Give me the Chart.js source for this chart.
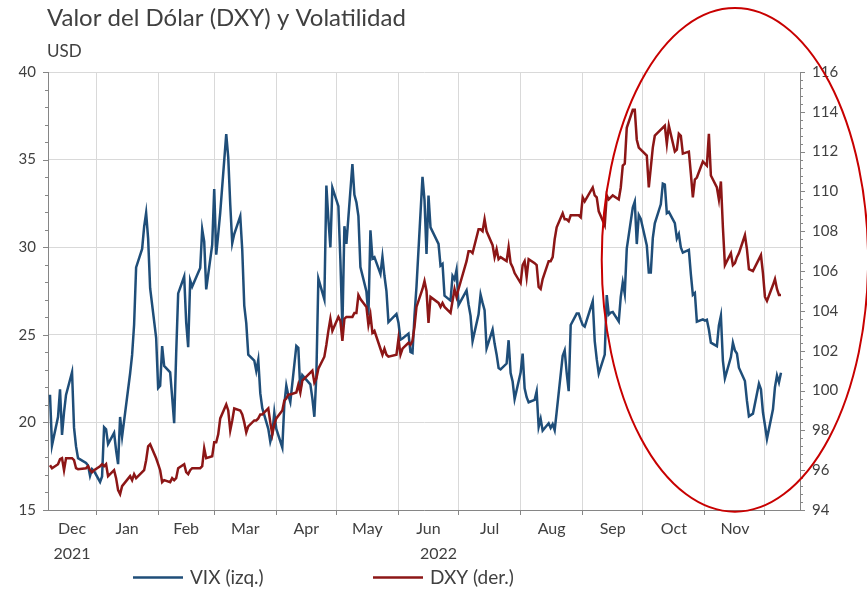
<!DOCTYPE html>
<html>
<head>
<meta charset="utf-8">
<script src="https://cdn.jsdelivr.net/npm/chart.js@4.4.1/dist/chart.umd.min.js"></script>
<style>
  html, body { margin: 0; padding: 0; background: #ffffff; }
  canvas { display: block; }
</style>
</head>
<body>
<canvas id="chart" width="867" height="590"></canvas>
<script>
// ---------------- DATA ----------------
const titleText = "Valor del Dólar (DXY) y Volatilidad";
const unitText = "USD";
const seriesNames = ["VIX (izq.)", "DXY (der.)"];

const tradeDates = [
  // Dec 2021
  "2021-12-09","2021-12-10","2021-12-13","2021-12-14","2021-12-15","2021-12-16","2021-12-17","2021-12-20","2021-12-21","2021-12-22","2021-12-23","2021-12-27","2021-12-28","2021-12-29","2021-12-30","2021-12-31",
  // Jan 2022
  "2022-01-03","2022-01-04","2022-01-05","2022-01-06","2022-01-07","2022-01-10","2022-01-11","2022-01-12","2022-01-13","2022-01-14","2022-01-18","2022-01-19","2022-01-20","2022-01-21","2022-01-24","2022-01-25","2022-01-26","2022-01-27","2022-01-28","2022-01-31",
  // Feb
  "2022-02-01","2022-02-02","2022-02-03","2022-02-04","2022-02-07","2022-02-08","2022-02-09","2022-02-10","2022-02-11","2022-02-14","2022-02-15","2022-02-16","2022-02-17","2022-02-18","2022-02-22","2022-02-23","2022-02-24","2022-02-25","2022-02-28",
  // Mar
  "2022-03-01","2022-03-02","2022-03-03","2022-03-04","2022-03-07","2022-03-08","2022-03-09","2022-03-10","2022-03-11","2022-03-14","2022-03-15","2022-03-16","2022-03-17","2022-03-18","2022-03-21","2022-03-22","2022-03-23","2022-03-24","2022-03-25","2022-03-28","2022-03-29","2022-03-30","2022-03-31",
  // Apr
  "2022-04-01","2022-04-04","2022-04-05","2022-04-06","2022-04-07","2022-04-08","2022-04-11","2022-04-12","2022-04-13","2022-04-14","2022-04-18","2022-04-19","2022-04-20","2022-04-21","2022-04-22","2022-04-25","2022-04-26","2022-04-27","2022-04-28","2022-04-29",
  // May
  "2022-05-02","2022-05-03","2022-05-04","2022-05-05","2022-05-06","2022-05-09","2022-05-10","2022-05-11","2022-05-12","2022-05-13","2022-05-16","2022-05-17","2022-05-18","2022-05-19","2022-05-20","2022-05-23","2022-05-24","2022-05-25","2022-05-26","2022-05-27","2022-05-31",
  // Jun
  "2022-06-01","2022-06-02","2022-06-03","2022-06-06","2022-06-07","2022-06-08","2022-06-09","2022-06-10","2022-06-13","2022-06-14","2022-06-15","2022-06-16","2022-06-17","2022-06-21","2022-06-22","2022-06-23","2022-06-24","2022-06-27","2022-06-28","2022-06-29","2022-06-30",
  // Jul
  "2022-07-01","2022-07-05","2022-07-06","2022-07-07","2022-07-08","2022-07-11","2022-07-12","2022-07-13","2022-07-14","2022-07-15","2022-07-18","2022-07-19","2022-07-20","2022-07-21","2022-07-22","2022-07-25","2022-07-26","2022-07-27","2022-07-28","2022-07-29",
  // Aug
  "2022-08-01","2022-08-02","2022-08-03","2022-08-04","2022-08-05","2022-08-08","2022-08-09","2022-08-10","2022-08-11","2022-08-12","2022-08-15","2022-08-16","2022-08-17","2022-08-18","2022-08-19","2022-08-22","2022-08-23","2022-08-24","2022-08-25","2022-08-26","2022-08-29","2022-08-30","2022-08-31",
  // Sep
  "2022-09-01","2022-09-02","2022-09-06","2022-09-07","2022-09-08","2022-09-09","2022-09-12","2022-09-13","2022-09-14","2022-09-15","2022-09-16","2022-09-19","2022-09-20","2022-09-21","2022-09-22","2022-09-23","2022-09-26","2022-09-27","2022-09-28","2022-09-29","2022-09-30",
  // Oct
  "2022-10-03","2022-10-04","2022-10-05","2022-10-06","2022-10-07","2022-10-10","2022-10-11","2022-10-12","2022-10-13","2022-10-14","2022-10-17","2022-10-18","2022-10-19","2022-10-20","2022-10-21","2022-10-24","2022-10-25","2022-10-26","2022-10-27","2022-10-28","2022-10-31",
  // Nov
  "2022-11-01","2022-11-02","2022-11-03","2022-11-04","2022-11-07","2022-11-08","2022-11-09","2022-11-10","2022-11-11","2022-11-14","2022-11-15","2022-11-16","2022-11-17","2022-11-18","2022-11-21","2022-11-22","2022-11-23","2022-11-25","2022-11-28","2022-11-29","2022-11-30",
  // Dec 2022
  "2022-12-01","2022-12-02","2022-12-05","2022-12-06","2022-12-07","2022-12-08","2022-12-09"
];

const vixValues = [
  21.58,18.69,20.31,21.89,19.29,20.57,21.57,22.87,19.70,18.63,17.96,17.68,17.54,16.95,17.33,17.22,
  16.60,16.91,19.73,19.61,18.76,19.40,18.41,17.62,20.31,19.19,22.79,23.85,25.59,28.85,29.90,31.16,31.96,30.49,27.66,24.83,
  21.96,22.09,24.35,23.22,22.86,21.44,19.96,23.91,27.36,28.33,25.70,24.29,28.11,27.75,28.81,31.02,30.32,27.59,30.15,
  33.32,29.57,30.74,31.98,36.45,35.13,32.45,30.23,30.75,31.77,29.83,26.67,25.67,23.87,23.53,22.94,23.57,21.67,20.81,19.63,18.90,19.33,20.56,
  19.63,18.57,21.03,22.10,21.55,21.16,24.37,24.26,21.82,22.70,22.17,21.37,20.32,22.68,28.21,27.02,33.52,31.60,29.99,33.40,
  32.34,29.25,25.42,31.20,30.19,34.75,32.99,32.56,31.77,28.87,27.47,26.10,30.96,29.35,29.43,28.48,29.45,28.37,27.50,25.72,26.19,
  25.69,24.72,24.79,25.07,24.02,23.96,26.09,27.75,34.02,32.69,29.62,32.95,31.13,30.19,28.95,29.05,27.23,26.95,28.36,28.16,28.71,
  26.70,27.54,26.73,26.08,24.64,26.17,27.29,26.82,26.40,24.23,25.30,24.50,23.88,23.11,23.03,23.36,24.69,22.82,22.33,21.33,
  22.84,23.93,21.95,21.44,21.15,21.29,21.77,19.74,20.20,19.53,19.95,19.69,19.90,19.56,20.60,23.80,24.11,22.82,21.78,25.56,26.21,26.21,25.87,
  25.56,25.47,26.91,24.64,23.61,22.79,23.87,27.27,26.16,26.27,26.30,25.76,27.16,27.99,27.35,29.92,32.26,32.60,30.18,31.84,31.62,
  30.10,28.55,28.55,30.52,31.36,32.45,33.63,33.57,31.94,32.02,31.37,30.50,30.76,29.98,29.69,29.85,28.46,27.28,27.39,25.75,25.88,
  25.81,25.86,25.30,24.55,24.35,25.54,26.09,23.53,22.52,23.73,24.54,24.11,23.93,23.12,22.36,21.24,20.35,20.50,22.21,21.89,20.58,
  19.84,19.06,20.75,22.01,22.68,22.29,22.83
];

const dxyValues = [
  96.25,96.1,96.3,96.55,96.6,96.0,96.6,96.6,96.5,96.1,96.05,96.1,96.2,96.0,95.9,96.0,
  96.2,96.3,96.2,96.3,95.7,96.0,95.6,95.0,94.8,95.2,95.7,95.5,95.8,95.6,95.9,96.0,96.5,97.2,97.3,96.6,
  96.3,96.0,95.4,95.5,95.4,95.6,95.5,95.6,96.1,96.3,95.9,95.8,96.0,96.1,96.1,96.2,97.1,96.6,96.7,
  97.4,97.4,97.8,98.6,99.3,99.0,98.0,98.5,99.1,99.0,98.8,98.4,97.9,98.2,98.5,98.5,98.6,98.8,98.8,99.1,98.4,97.8,98.3,
  98.6,99.0,99.5,99.6,99.8,99.8,99.9,100.3,99.9,100.5,100.9,101.0,100.4,100.6,101.1,101.7,102.3,103.0,103.6,103.0,
  103.7,103.5,102.5,103.6,103.7,103.7,103.9,103.9,104.8,104.6,104.2,103.3,103.8,102.9,103.0,102.1,101.8,102.1,101.8,101.7,101.8,
  102.6,101.8,102.1,102.4,102.3,102.5,103.2,104.2,105.1,105.5,105.0,103.4,104.7,104.4,104.2,104.4,104.2,103.9,104.5,105.1,104.7,
  105.1,106.5,107.0,107.0,106.9,108.1,108.1,108.0,108.6,108.0,107.3,106.7,107.1,106.6,106.7,106.5,107.2,106.4,106.2,105.9,
  105.4,106.3,106.5,105.7,106.6,106.4,106.3,105.2,105.1,105.6,106.5,106.5,106.7,107.6,108.2,108.9,108.6,108.6,108.5,108.8,108.8,108.8,108.7,
  109.7,109.5,110.2,109.8,109.7,109.0,108.3,109.8,109.6,109.7,109.8,109.6,110.2,111.3,111.4,113.2,114.1,114.1,112.6,112.2,112.1,
  111.8,110.2,111.2,112.2,112.8,113.1,113.2,113.3,112.4,113.3,112.0,112.1,112.9,112.8,111.9,112.0,110.9,109.7,110.6,110.7,111.5,
  111.4,111.3,112.9,110.8,110.2,109.6,110.5,108.2,106.3,106.9,106.3,106.4,106.7,106.9,107.8,107.1,106.1,106.0,106.6,106.8,105.9,
  104.7,104.5,105.3,105.6,105.1,104.8,104.8
];

const monthStartDates = ["2022-01-01","2022-02-01","2022-03-01","2022-04-01","2022-05-01","2022-06-01","2022-07-01","2022-08-01","2022-09-01","2022-10-01","2022-11-01","2022-12-01"];
const monthLabels = ["Dec","Jan","Feb","Mar","Apr","May","Jun","Jul","Aug","Sep","Oct","Nov"];
const yearLabels = ["2021","2022"];

const leftTicks = [15,20,25,30,35,40];
const rightTicks = [94,96,98,100,102,104,106,108,110,112,114,116];

// highlighted region (annotation ellipse), in data units
const focusCenterDate = "2022-11-16";
const focusHalfWidthDays = 66.5;
const focusTopVix = 43.65;
const focusBottomVix = 14.9;

// ---------------- HELPERS ----------------
const ORIGIN = Date.UTC(2021, 11, 1);
function dayNum(s) {
  const p = s.split("-").map(Number);
  return (Date.UTC(p[0], p[1] - 1, p[2]) - ORIGIN) / 86400000;
}
const xDays = tradeDates.map(dayNum);
const monthStarts = monthStartDates.map(dayNum);
const X_MIN = xDays[0] - 1;
const X_MAX = 382.5;

const monthMids = [(X_MIN + monthStarts[0]) / 2];
for (let i = 0; i < monthStarts.length - 1 && monthMids.length < monthLabels.length; i++) {
  monthMids.push((monthStarts[i] + monthStarts[i + 1]) / 2);
}
const yearMids = [(X_MIN + monthStarts[0]) / 2, (monthStarts[0] + xDays[xDays.length - 1]) / 2];

function minorSteps(lo, hi, step) {
  const out = [];
  const n = Math.round((hi - lo) / step);
  for (let i = 0; i <= n; i++) out.push(Math.round((lo + i * step) * 1000) / 1000);
  return out;
}
const leftAllTicks = minorSteps(leftTicks[0], leftTicks[leftTicks.length - 1], 1);
const rightAllTicks = minorSteps(rightTicks[0], rightTicks[rightTicks.length - 1], 0.4);
const isLeftMajor = v => leftTicks.some(t => Math.abs(t - v) < 1e-6);
const isRightMajor = v => rightTicks.some(t => Math.abs(t - v) < 1e-6);

// ---------------- STYLE ----------------
const FONT = "Lato, 'Open Sans', 'Noto Sans', sans-serif";
const TEXT = "#404040";
const AXIS = "#868686";
const GRID = "#d9d9d9";
const VIX_COLOR = "#1f4e79";
const DXY_COLOR = "#8c1616";
const FOCUS_COLOR = "#c80000";

Chart.defaults.font.family = FONT;
Chart.defaults.color = TEXT;

const decorPlugin = {
  id: "decor",
  afterDraw(chart) {
    const ctx = chart.ctx;
    const area = chart.chartArea;
    const sy = chart.scales.y, sy1 = chart.scales.y1, sx = chart.scales.x;
    ctx.save();
    // minor & major tick marks on y axes
    ctx.strokeStyle = AXIS;
    ctx.lineWidth = 1;
    ctx.beginPath();
    leftAllTicks.forEach(v => {
      const py = Math.round(sy.getPixelForValue(v)) + 0.5;
      const len = isLeftMajor(v) ? 5 : 3;
      ctx.moveTo(area.left - len, py); ctx.lineTo(area.left, py);
    });
    rightAllTicks.forEach(v => {
      const py = Math.round(sy1.getPixelForValue(v)) + 0.5;
      const len = isRightMajor(v) ? 5 : 3;
      ctx.moveTo(area.right, py); ctx.lineTo(area.right + len, py);
    });
    ctx.stroke();

    // title & unit
    ctx.fillStyle = TEXT;
    ctx.textAlign = "left";
    ctx.textBaseline = "alphabetic";
    ctx.font = "24px " + FONT;
    ctx.fillText(titleText, 47, 26);
    ctx.font = "17px " + FONT;
    ctx.fillText(unitText, 47, 57);

    // legend
    const legendX = [133, 373];
    const ly = 577.5;
    chart.data.datasets.forEach((ds, i) => {
      ctx.strokeStyle = ds.borderColor;
      ctx.lineWidth = 2.5;
      ctx.beginPath();
      ctx.moveTo(legendX[i], ly); ctx.lineTo(legendX[i] + 50, ly);
      ctx.stroke();
      ctx.fillStyle = TEXT;
      ctx.font = "19px " + FONT;
      ctx.textBaseline = "middle";
      ctx.fillText(ds.label, legendX[i] + 57, ly);
    });

    // focus ellipse
    const cDay = dayNum(focusCenterDate);
    const cx = sx.getPixelForValue(cDay);
    const rx = sx.getPixelForValue(cDay + focusHalfWidthDays) - cx;
    const top = sy.getPixelForValue(focusTopVix);
    const bot = sy.getPixelForValue(focusBottomVix);
    ctx.strokeStyle = FOCUS_COLOR;
    ctx.lineWidth = 2;
    ctx.beginPath();
    ctx.ellipse(cx, (top + bot) / 2, rx, (bot - top) / 2, 0, 0, Math.PI * 2);
    ctx.stroke();
    ctx.restore();
  }
};

new Chart(document.getElementById("chart"), {
  type: "line",
  data: {
    datasets: [
      {
        label: seriesNames[0],
        data: xDays.map((x, i) => ({ x: x, y: vixValues[i] })),
        yAxisID: "y",
        xAxisID: "x",
        borderColor: VIX_COLOR,
        borderWidth: 2.5,
        pointRadius: 0,
        tension: 0,
        order: 2
      },
      {
        label: seriesNames[1],
        data: xDays.map((x, i) => ({ x: x, y: dxyValues[i] })),
        yAxisID: "y1",
        xAxisID: "x",
        borderColor: DXY_COLOR,
        borderWidth: 2.5,
        pointRadius: 0,
        tension: 0,
        order: 1
      }
    ]
  },
  options: {
    responsive: false,
    animation: false,
    devicePixelRatio: 1,
    layout: { padding: { top: 72, left: 0, right: 0, bottom: 0 } },
    plugins: { legend: { display: false }, tooltip: { enabled: false }, title: { display: false } },
    scales: {
      x: {
        type: "linear", position: "bottom", min: X_MIN, max: X_MAX, weight: 0,
        afterBuildTicks: s => { s.ticks = monthStarts.map(v => ({ value: v })); },
        afterFit: s => { s.height = 5; },
        grid: { color: GRID, lineWidth: 1, drawTicks: true, tickLength: 5, tickColor: AXIS, tickWidth: 1 },
        border: { display: true, color: AXIS, width: 1 },
        ticks: { display: false }
      },
      xm: {
        type: "linear", position: "bottom", min: X_MIN, max: X_MAX, weight: 1,
        afterBuildTicks: s => { s.ticks = monthMids.map(v => ({ value: v })); },
        afterFit: s => { s.height = 28; },
        grid: { display: false, drawOnChartArea: false, drawTicks: false },
        border: { display: false },
        ticks: { autoSkip: false, maxRotation: 0, padding: 4, color: TEXT, font: { size: 16 },
                 callback: (v, i) => monthLabels[i] }
      },
      xy: {
        type: "linear", position: "bottom", min: X_MIN, max: X_MAX, weight: 2,
        afterBuildTicks: s => { s.ticks = yearMids.map(v => ({ value: v })); },
        afterFit: s => { s.height = 47; },
        grid: { display: false, drawOnChartArea: false, drawTicks: false },
        border: { display: false },
        ticks: { autoSkip: false, maxRotation: 0, padding: 1, color: TEXT, font: { size: 16 },
                 callback: (v, i) => yearLabels[i] }
      },
      y: {
        type: "linear", position: "left", min: leftTicks[0], max: leftTicks[leftTicks.length - 1],
        afterBuildTicks: s => { s.ticks = leftAllTicks.map(v => ({ value: v })); },
        afterFit: s => { s.width = 48; },
        grid: { drawTicks: false, lineWidth: 1,
                color: c => (c.tick && isLeftMajor(c.tick.value)) ? GRID : "rgba(0,0,0,0)" },
        border: { display: true, color: AXIS, width: 1 },
        ticks: { autoSkip: false, padding: 12, color: TEXT, font: { size: 15 },
                 callback: v => isLeftMajor(v) ? String(v) : "" }
      },
      y1: {
        type: "linear", position: "right", min: rightTicks[0], max: rightTicks[rightTicks.length - 1],
        afterBuildTicks: s => { s.ticks = rightAllTicks.map(v => ({ value: v })); },
        afterFit: s => { s.width = 67; },
        grid: { drawTicks: false, drawOnChartArea: false },
        border: { display: true, color: AXIS, width: 1 },
        ticks: { autoSkip: false, padding: 12, color: TEXT, font: { size: 15 },
                 callback: v => isRightMajor(v) ? String(Math.round(v)) : "" }
      }
    }
  },
  plugins: [decorPlugin]
});
</script>
</body>
</html>
